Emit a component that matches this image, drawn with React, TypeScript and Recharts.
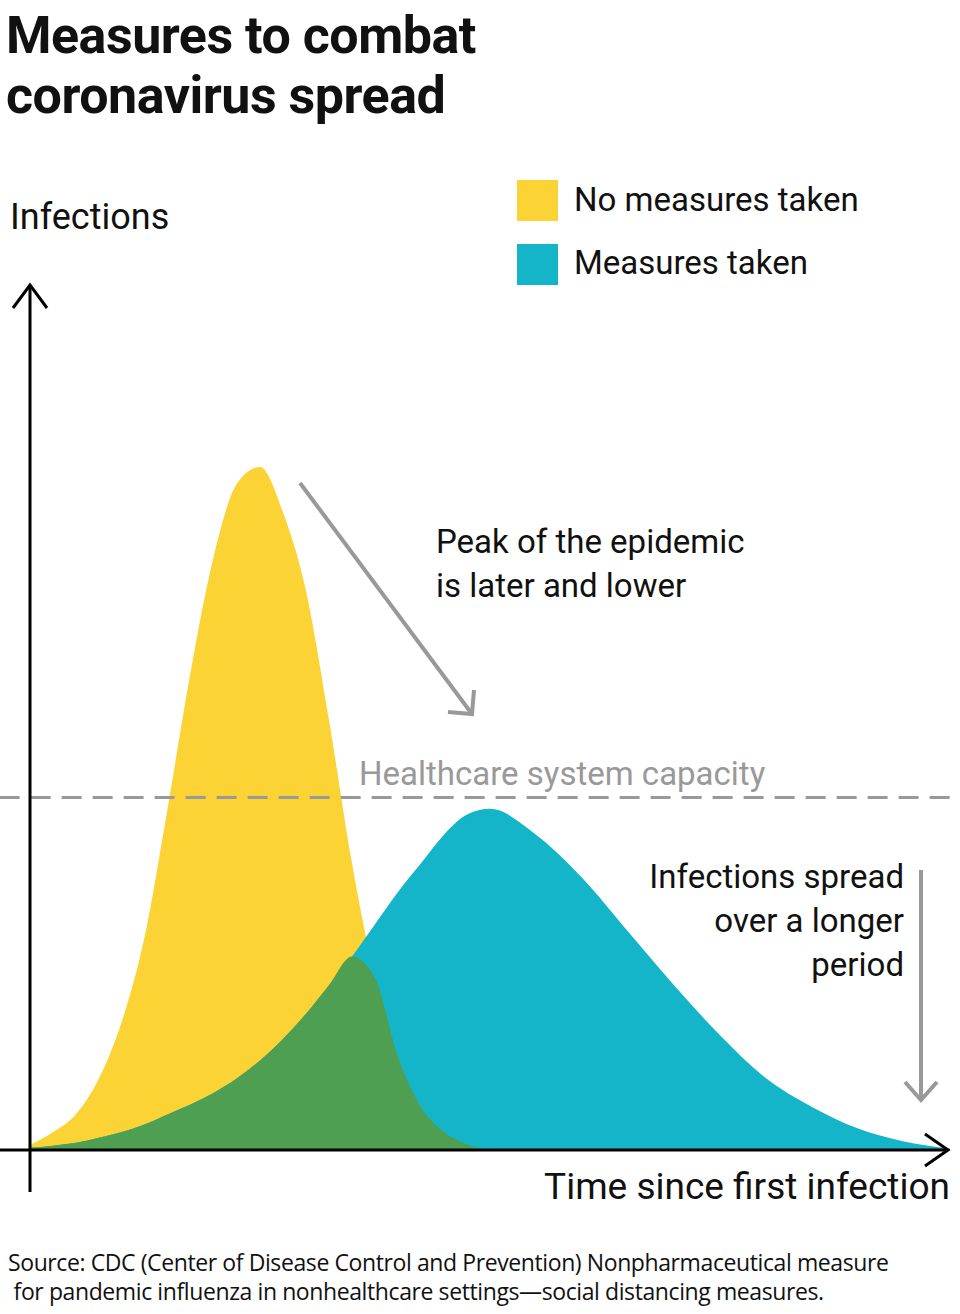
import React from "react";
import { ComposedChart, Area, XAxis, YAxis, ReferenceLine } from "recharts";

const times = [0, 2.5, 5, 7.5, 10, 12.5, 15, 17.5, 20, 22.5, 25, 27.5, 30, 32.5, 35, 37.5, 40, 42.5, 45, 47.5, 50, 55, 60, 65, 70, 75, 80, 85, 90, 95, 100];
const noMeasures = [0.7, 2.5, 5, 10, 18, 30, 48, 67, 83, 93, 95.3, 89, 78, 60, 40, 24, 13, 6, 2.5, 0.8, 0, 0, 0, 0, 0, 0, 0, 0, 0, 0, 0];
const measures = [0.3, 0.6, 1, 1.7, 2.5, 3.6, 5, 6.4, 8, 10, 12.5, 15.5, 19, 23, 27, 31.5, 36, 40, 44, 46.8, 47.6, 44, 38, 30.5, 23, 16, 10, 6, 3, 1.2, 0.2];
const capacity = 49.2;

const data = times.map((t, i) => ({
  t,
  a: noMeasures[i],
  b: measures[i],
  both: Math.min(noMeasures[i], measures[i]),
}));

const font = "Roboto, 'Noto Sans', sans-serif";

export default function App() {
  return (
    <div style={{ position: "absolute", left: 0, top: 0, width: 960, height: 1314, background: "#fff", fontFamily: font, color: "#111" }}>
      <div style={{ position: "absolute", left: 6, top: 6, fontSize: 52, fontWeight: 700, lineHeight: "60px", letterSpacing: -0.5 }}>
        Measures to combat<br />coronavirus spread
      </div>
      <div style={{ position: "absolute", left: 10, top: 196, fontSize: 36 }}>Infections</div>
      <div style={{ position: "absolute", left: 517, top: 180, width: 41, height: 41, background: "#FCD335" }} />
      <div style={{ position: "absolute", left: 574, top: 180, fontSize: 33 }}>No measures taken</div>
      <div style={{ position: "absolute", left: 517, top: 244, width: 41, height: 41, background: "#15B5C9" }} />
      <div style={{ position: "absolute", left: 574, top: 243, fontSize: 33 }}>Measures taken</div>

      <ComposedChart width={960} height={1314} data={data} margin={{ top: 290, left: 30, right: 10, bottom: 164 }} style={{ position: "absolute", left: 0, top: 0 }}>
        <XAxis dataKey="t" type="number" domain={[0, 100]} hide />
        <YAxis type="number" domain={[0, 120]} hide width={0} />
        <Area type="monotone" dataKey="a" stroke="none" fill="#FCD335" fillOpacity={1} isAnimationActive={false} />
        <Area type="monotone" dataKey="b" stroke="none" fill="#15B5C9" fillOpacity={1} isAnimationActive={false} />
        <Area type="monotone" dataKey="both" stroke="none" fill="#4F9F53" fillOpacity={1} isAnimationActive={false} />
        <ReferenceLine segment={[{ x: -3.3, y: capacity }, { x: 100, y: capacity }]} ifOverflow="visible" stroke="#999" strokeWidth={3} strokeDasharray="20 11" />
      </ComposedChart>

      <svg width={960} height={1314} style={{ position: "absolute", left: 0, top: 0 }}>
        <g stroke="#000" strokeWidth={3} fill="none">
          <line x1={30} y1={285} x2={30} y2={1192} />
          <polyline points="13,308 30,285 47,308" />
          <line x1={0} y1={1150} x2={948} y2={1150} />
          <polyline points="925,1134 948,1150 925,1166" />
        </g>
        <g stroke="#999" strokeWidth={4} fill="none">
          <line x1={300} y1={483} x2={472} y2={714} />
          <polyline points="448,712 472,714 474,690" />
          <line x1={921} y1={870} x2={921} y2={1098} />
          <polyline points="905,1082 921,1100 937,1082" />
        </g>
      </svg>

      <div style={{ position: "absolute", left: 436, top: 520, fontSize: 33, lineHeight: "44px" }}>
        Peak of the epidemic<br />is later and lower
      </div>
      <div style={{ position: "absolute", left: 359, top: 754, fontSize: 33, color: "#999" }}>Healthcare system capacity</div>
      <div style={{ position: "absolute", right: 56, top: 855, fontSize: 33, lineHeight: "44px", textAlign: "right" }}>
        Infections spread<br />over a longer<br />period
      </div>
      <div style={{ position: "absolute", right: 10, top: 1165, fontSize: 37 }}>Time since first infection</div>
      <div style={{ position: "absolute", left: 8, top: 1248, fontSize: 23, lineHeight: "29px", fontFamily: "'Open Sans', sans-serif", letterSpacing: -0.4 }}>
        Source: CDC (Center of Disease Control and Prevention) Nonpharmaceutical measure<br />&nbsp;for pandemic influenza in nonhealthcare settings—social distancing measures.
      </div>
    </div>
  );
}
